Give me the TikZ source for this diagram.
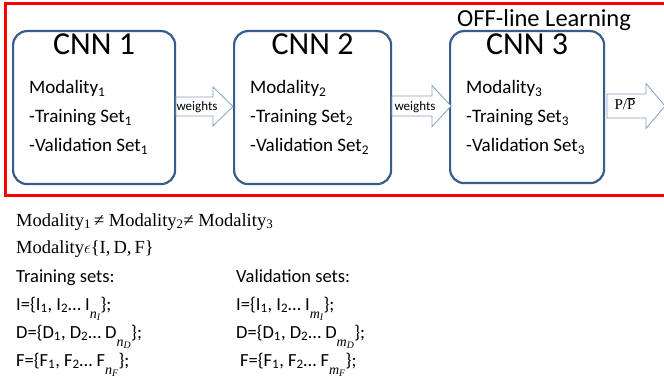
\documentclass[tikz,border=0pt]{standalone}
\usepackage{fontspec}
\setmainfont{Carlito}
\newfontfamily\serif{Liberation Serif}
\usetikzlibrary{calc}
\definecolor{boxblue}{RGB}{56,93,138}
\definecolor{arrowblue}{RGB}{135,160,195}
\newcommand\nsub[2]{\raisebox{-8pt}{\fontsize{14}{14}\serif\itshape\selectfont #1\textsubscript{#2}}}
\newcommand\blockarrow[6]{% tail, headstart, tip, cy, halfbody, halfhead
  \draw[arrowline] (#1,#4-#5) -- (#2,#4-#5) -- (#2,#4-#6) -- (#3,#4) -- (#2,#4+#6) -- (#2,#4+#5) -- (#1,#4+#5) -- cycle;}
\begin{document}
\begin{tikzpicture}[x=1pt,y=-1pt,
  cnnbox/.style={draw=boxblue, line width=2.2pt, rounded corners=14pt, anchor=north west, inner sep=0pt},
  arrowline/.style={draw=arrowblue, line width=0.8pt, fill=white, line join=miter},
  title/.style={anchor=base, font=\fontsize{32}{32}\selectfont},
  item/.style={anchor=base west, inner sep=0pt, font=\fontsize{19}{19}\selectfont},
  lbl/.style={anchor=center, inner sep=0pt, font=\fontsize{13}{13}\selectfont},
  serifline/.style={anchor=base west, inner sep=0pt, font=\fontsize{18.5}{18.5}\serif\selectfont},
  setline/.style={anchor=base west, inner sep=0pt, font=\fontsize{18.5}{18.5}\selectfont}]
\clip (0,0) rectangle (664,382);
\fill[white] (0,0) rectangle (664,382);
% red frame
\draw[red, line width=3pt] (5,3.5) rectangle (680,196);
\node[anchor=base west, inner sep=0pt, font=\fontsize{24.5}{24.5}\selectfont] (off) at (457,27) {OFF-line Learning};
% boxes
\node[cnnbox, minimum width=162pt, minimum height=153pt] (c1) at (12,30) {};
\node[cnnbox, minimum width=157pt, minimum height=153pt] (c2) at (233,30) {};
\node[cnnbox, minimum width=154pt, minimum height=152pt] (c3) at (449,30) {};
\foreach \i in {1,2,3}{
  \node[title] (t\i) at ($(c\i.north)+(0,24.5)$) {CNN \i};
  \node[item] (m\i) at ($(c\i.north west)+(17,64)$) {Modality\textsubscript{\i}};
  \node[item] (tr\i) at ($(c\i.north west)+(17,93)$) {-Training Set\textsubscript{\i}};
  \node[item] (v\i) at ($(c\i.north west)+(17,122)$) {-Validation Set\textsubscript{\i}};
}
% arrows
\blockarrow{176}{213}{233}{106.5}{9.5}{19.5}
\node[lbl] (w1) at (197,107) {weights};
\blockarrow{392}{432}{451}{106}{10}{20.5}
\node[lbl] (w2) at (415,107) {weights};
\blockarrow{607}{646}{665}{106}{12}{22.5}
\node[anchor=center, inner sep=0pt, font=\fontsize{15}{15}\serif\selectfont] (p) at (625,104) {P/$\overline{\hbox{P}}$};
% bottom text
\node[serifline] (l1) at (16,226) {Modality\textsubscript{1}\,≠ Modality\textsubscript{2}≠ Modality\textsubscript{3}};
\node[serifline] (l2) at (16,254) {Modality$\epsilon$\{I,\,D,\,F\}};
\node[setline] (ts) at (16,282) {Training sets:};
\node[setline] (ti) at (16,310) {I=\{I\textsubscript{1}, I\textsubscript{2}… I\nsub{n}{I}\};};
\node[setline] (td) at (16,338) {D=\{D\textsubscript{1}, D\textsubscript{2}… D\nsub{n}{D}\};};
\node[setline] (tf) at (16,366) {F=\{F\textsubscript{1}, F\textsubscript{2}… F\nsub{n}{F}\};};
\node[setline] (vs) at (236,282) {Validation sets:};
\node[setline] (vi) at (236,310) {I=\{I\textsubscript{1}, I\textsubscript{2}… I\nsub{m}{I}\};};
\node[setline] (vd) at (236,338) {D=\{D\textsubscript{1}, D\textsubscript{2}… D\nsub{m}{D}\};};
\node[setline] (vf) at (240,366) {F=\{F\textsubscript{1}, F\textsubscript{2}… F\nsub{m}{F}\};};
\end{tikzpicture}
\end{document}
